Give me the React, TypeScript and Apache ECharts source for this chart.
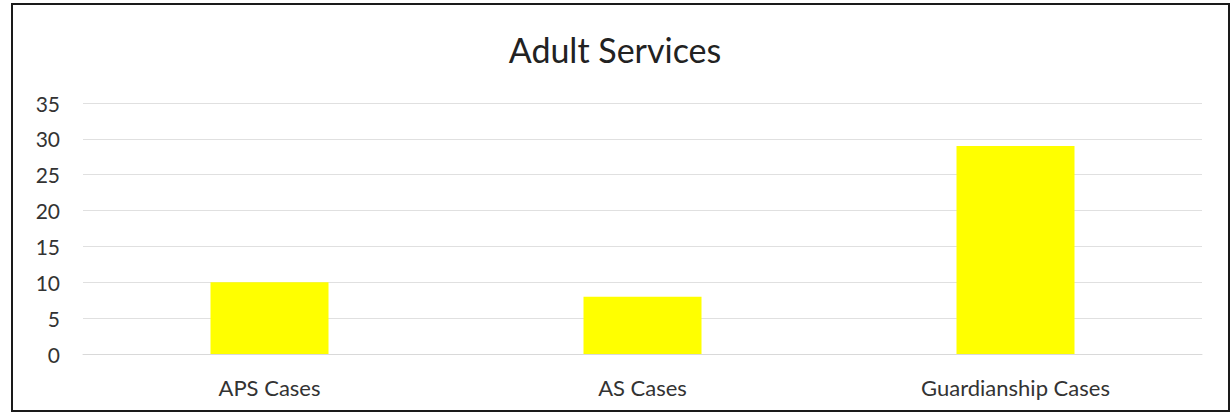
import React, { useEffect, useRef } from "react";
import * as echarts from "echarts";

const categories = ["APS Cases", "AS Cases", "Guardianship Cases"];
const values = [10, 8, 29];
const yTicks = { min: 0, max: 35, interval: 5 };
const title = "Adult Services";

export default function App() {
  const ref = useRef<HTMLDivElement>(null);
  useEffect(() => {
    if (!ref.current) return;
    const chart = echarts.init(ref.current, undefined, { renderer: "svg" });
    const font = "Lato, 'Open Sans', sans-serif";
    chart.setOption({
      animation: false,
      backgroundColor: "#ffffff",
      title: {
        text: title,
        left: "center",
        top: 27,
        textStyle: { fontFamily: font, fontSize: 34, fontWeight: "normal", color: "#222222" },
      },
      grid: { left: 83, right: 28, top: 103, bottom: 59, containLabel: false },
      xAxis: {
        type: "category",
        data: categories,
        axisLine: { show: true, lineStyle: { color: "#d9d9d9", width: 1 } },
        axisTick: { show: false },
        axisLabel: { fontFamily: font, fontSize: 22, color: "#333333", margin: 22 },
      },
      yAxis: {
        type: "value",
        min: yTicks.min,
        max: yTicks.max,
        interval: yTicks.interval,
        axisLine: { show: false },
        axisTick: { show: false },
        splitLine: { lineStyle: { color: "#e0e0e0", width: 1 } },
        axisLabel: { fontFamily: font, fontSize: 21, color: "#333333", margin: 23 },
      },
      series: [
        {
          type: "bar",
          data: values,
          barWidth: 118,
          itemStyle: { color: "#ffff00" },
        },
      ],
      graphic: [
        {
          type: "rect",
          shape: { x: 12, y: 4, width: 1217, height: 407 },
          style: { fill: "none", stroke: "#1a1a1a", lineWidth: 2 },
          silent: true,
        },
      ],
    });
    return () => chart.dispose();
  }, []);
  return (
    <div
      ref={ref}
      style={{ position: "absolute", left: 0, top: 0, width: 1230, height: 413 }}
    />
  );
}
